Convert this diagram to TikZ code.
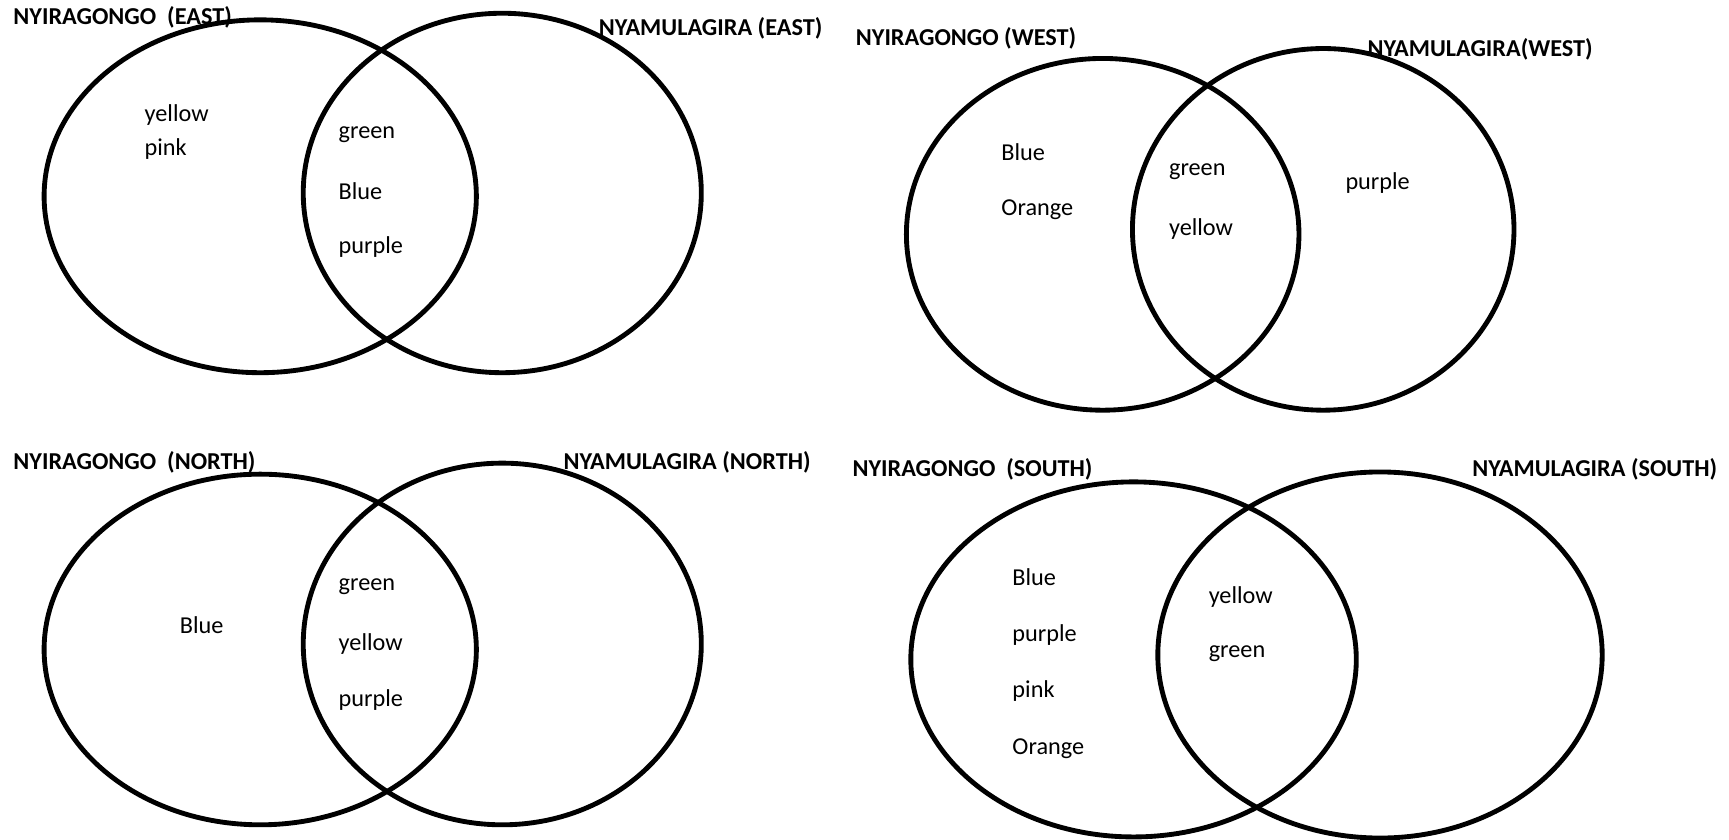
\documentclass[tikz,border=0pt]{standalone}
\usepackage{fontspec}
\setmainfont{Carlito}
\begin{document}
\begin{tikzpicture}[x=1pt,y=-1pt,
  ring/.style={draw=black,line width=4.4pt},
  title/.style={anchor=west,inner sep=0pt,font=\fontsize{22}{26}\selectfont\bfseries},
  item/.style={anchor=west,inner sep=0pt,font=\fontsize{22}{26}\selectfont}]
\fill[white] (0,0) rectangle (1568,761);
\useasboundingbox (0,0) rectangle (1568,761);

% ---- EAST ----
\draw[ring] (236,178) ellipse [x radius=196pt, y radius=160pt];
\draw[ring] (455.5,175) ellipse [x radius=180.5pt, y radius=163pt];
\node[title] (eastA) at (12,16) {NYIRAGONGO\ \ (EAST)};
\node[title] (eastB) at (543,26) {NYAMULAGIRA (EAST)};
\node[item] (e1) at (131,104) {yellow};
\node[item] (e2) at (131,135) {pink};
\node[item] (e3) at (307,122) {green};
\node[item] (e4) at (307,173) {Blue};
\node[item] (e5) at (307,224) {purple};

% ---- WEST ----
\draw[ring] (1000,212.5) ellipse [x radius=178pt, y radius=159.5pt];
\draw[ring] (1200,208) ellipse [x radius=173pt, y radius=164pt];
\node[title] (westA) at (776,35) {NYIRAGONGO (WEST)};
\node[title] (westB) at (1240,45) {NYAMULAGIRA(WEST)};
\node[item] (w1) at (908,138) {Blue};
\node[item] (w2) at (908,190) {Orange};
\node[item] (w3) at (1060,156) {green};
\node[item] (w4) at (1060,208) {yellow};
\node[item] (w5) at (1220,166) {purple};

% ---- NORTH ----
\draw[ring] (236,589) ellipse [x radius=196pt, y radius=159pt];
\draw[ring] (455.5,584) ellipse [x radius=180.5pt, y radius=164pt];
\node[title] (northA) at (12,419) {NYIRAGONGO\ \ (NORTH)};
\node[title] (northB) at (511,419) {NYAMULAGIRA (NORTH)};
\node[item] (n1) at (163,567) {Blue};
\node[item] (n2) at (307,532) {green};
\node[item] (n3) at (307,584) {yellow};
\node[item] (n4) at (307,635) {purple};

% ---- SOUTH ----
\draw[ring] (1028,598) ellipse [x radius=202pt, y radius=161pt];
\draw[ring] (1251.5,594) ellipse [x radius=201.5pt, y radius=166pt];
\node[title] (southA) at (773,426) {NYIRAGONGO\ \ (SOUTH)};
\node[title] (southB) at (1335,426) {NYAMULAGIRA (SOUTH)};
\node[item] (s1) at (918,523) {Blue};
\node[item] (s2) at (918,576) {purple};
\node[item] (s3) at (918,627) {pink};
\node[item] (s4) at (918,679) {Orange};
\node[item] (s5) at (1096,541) {yellow};
\node[item] (s6) at (1096,593) {green};
\end{tikzpicture}
\end{document}
